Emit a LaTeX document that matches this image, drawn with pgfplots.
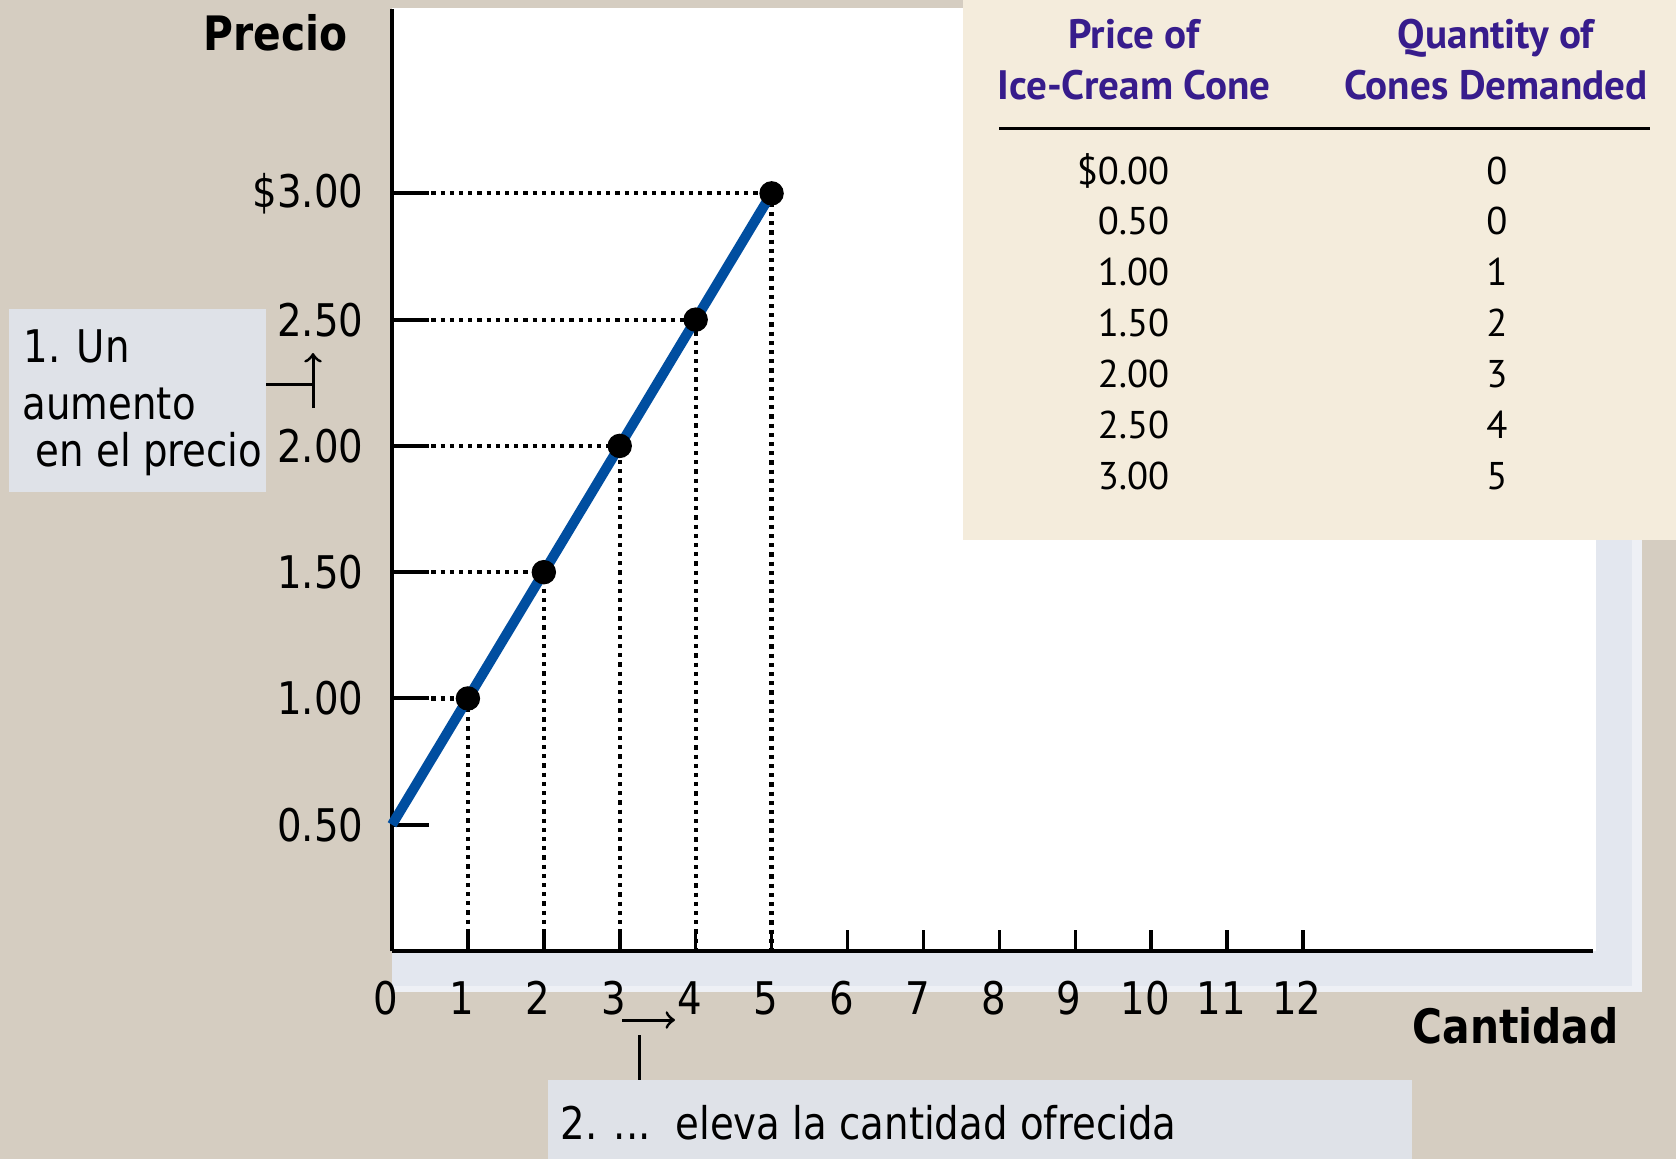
\documentclass[border=0pt]{standalone}
\usepackage{pgfplots}
\pgfplotsset{compat=1.18}
\usepackage{fontspec}
\setmainfont{DejaVu Sans}[FakeStretch=0.86]
\newfontfamily\tablefont{PT Sans}
\definecolor{bgbeige}{RGB}{213,205,193}
\definecolor{shadowc}{RGB}{227,231,239}
\definecolor{shadowl}{RGB}{238,240,245}
\definecolor{tablebg}{RGB}{244,236,220}
\definecolor{notebg}{RGB}{223,226,232}
\definecolor{curveblue}{RGB}{0,78,160}
\definecolor{hdrpurple}{RGB}{55,28,140}
\begin{document}
\begin{tikzpicture}
\begin{scope}[x=0.1mm,y=-0.1mm]
\fill[bgbeige] (0,0) rectangle (1676,1159);
\fill[shadowl] (392,8) rectangle (1642,992);
\fill[shadowc] (392,8) rectangle (1632,986);
\fill[white] (392,8) rectangle (1596,951);
\end{scope}
\begin{axis}[
  at={(39.2mm,-95.1mm)}, anchor=south west,
  scale only axis, width=120.1mm, height=94.2mm,
  xmin=0, xmax=15.82, ymin=0, ymax=3.73,
  clip=false,
  axis lines*=left,
  axis line style={line width=0.4mm, black},
  tick align=inside,
  major tick length=2.1mm,
  xtick={0,1,2,3,4,5,6,7,8,9,10,11,12},
  xticklabels={0,1,2,3,4,5,6,7,8,9,10,11,12},
  xtick style={line width=0.35mm, black},
  xticklabel style={font=\fontsize{12.8}{14}\selectfont, anchor=center, yshift=-4.7mm, xshift=-0.6mm},
  ytick={0.5,1,1.5,2,2.5,3},
  yticklabels={0.50,1.00,1.50,2.00,2.50,\$3.00},
  ytick style={draw=none},
  yticklabel style={font=\fontsize{12.8}{14}\selectfont, anchor=east, inner sep=0pt, xshift=-2.8mm},
  dots/.style={black, line width=0.42mm, dash pattern=on 0.42mm off 0.5mm},
]
% y-axis tick bars
\addplot[black, line width=0.4mm] coordinates {(0,0.5) (0.49,0.5)};
\addplot[black, line width=0.4mm] coordinates {(0,1) (0.49,1)};
\addplot[black, line width=0.4mm] coordinates {(0,1.5) (0.49,1.5)};
\addplot[black, line width=0.4mm] coordinates {(0,2) (0.49,2)};
\addplot[black, line width=0.4mm] coordinates {(0,2.5) (0.49,2.5)};
\addplot[black, line width=0.4mm] coordinates {(0,3) (0.49,3)};
% dotted guides
\addplot[dots] coordinates {(0.52,1) (1,1) (1,0)};
\addplot[dots] coordinates {(0.52,1.5) (2,1.5) (2,0)};
\addplot[dots] coordinates {(0.52,2) (3,2) (3,0)};
\addplot[dots] coordinates {(0.52,2.5) (4,2.5) (4,0)};
\addplot[dots] coordinates {(0.52,3) (5,3) (5,0)};
% supply curve
\addplot[curveblue, line width=1mm] coordinates {(0,0.5) (5,3)};
\addplot[only marks, mark=*, mark size=1.15mm, black] coordinates {(1,1) (2,1.5) (3,2) (4,2.5) (5,3)};
\end{axis}
\begin{scope}[x=0.1mm,y=-0.1mm]
% table
\fill[tablebg] (963,0) rectangle (1676,540);
\begin{scope}[every node/.style={inner sep=0pt, text=hdrpurple, font=\tablefont\bfseries\fontsize{11.7}{13}\selectfont, anchor=base}]
\node at (1134,48) {Price of};
\node at (1134,99) {Ice-Cream Cone};
\node at (1496,48) {Quantity of};
\node at (1496,99) {Cones Demanded};
\end{scope}
\draw[line width=0.3mm] (999,128) -- (1650,128);
\begin{scope}[every node/.style={inner sep=0pt, font=\tablefont\fontsize{11}{13}\selectfont}]
\node[anchor=base east] at (1170,184) {\$0.00};
\node[anchor=base east] at (1170,234) {0.50};
\node[anchor=base east] at (1170,285) {1.00};
\node[anchor=base east] at (1170,336) {1.50};
\node[anchor=base east] at (1170,387) {2.00};
\node[anchor=base east] at (1170,438) {2.50};
\node[anchor=base east] at (1170,489) {3.00};
\node[anchor=base] at (1497,184) {0};
\node[anchor=base] at (1497,234) {0};
\node[anchor=base] at (1497,285) {1};
\node[anchor=base] at (1497,336) {2};
\node[anchor=base] at (1497,387) {3};
\node[anchor=base] at (1497,438) {4};
\node[anchor=base] at (1497,489) {5};
\end{scope}
% axis titles
\node[anchor=base west, inner sep=0pt, font=\bfseries\fontsize{13.5}{15}\selectfont] at (203,50) {Precio};
\node[anchor=base west, inner sep=0pt, font=\bfseries\fontsize{13.5}{15}\selectfont] at (1412,1043) {Cantidad};
% annotation 1
\fill[notebg] (9,309) rectangle (266,492);
\begin{scope}[every node/.style={inner sep=0pt, anchor=base west, font=\fontsize{12.8}{14}\selectfont}]
\node at (23,362) {1. Un};
\node at (22,419) {aumento};
\node at (35,466) {en el precio};
\end{scope}
\draw[line width=0.3mm] (266,384) -- (313,384);
\draw[line width=0.3mm, ->] (313,408) -- (313,353);
% annotation 2
\draw[line width=0.3mm, ->] (622,1020) -- (675,1020);
\draw[line width=0.3mm] (639,1035) -- (639,1080);
\fill[notebg] (548,1080) rectangle (1412,1159);
\node[inner sep=0pt, anchor=base west, font=\fontsize{12.8}{14}\selectfont] at (560,1139) {2. ...\ \ eleva la cantidad ofrecida};
\end{scope}
\end{tikzpicture}
\end{document}
